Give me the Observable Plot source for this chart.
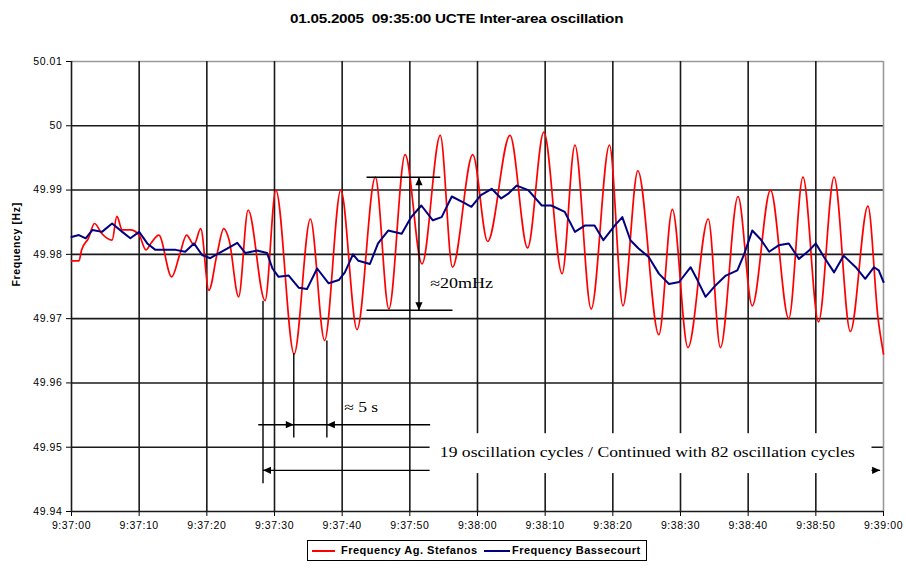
<!DOCTYPE html>
<html><head><meta charset="utf-8">
<script src="https://cdn.jsdelivr.net/npm/d3@7"></script>
<script src="https://cdn.jsdelivr.net/npm/@observablehq/plot@0.6"></script>
<style>
body{margin:0;background:#fff;width:906px;height:574px;position:relative;overflow:hidden;font-family:Arial,"Liberation Sans",sans-serif;color:#000}
#title{position:absolute;left:0;top:9px;width:906px;text-align:center;}
#title span{display:inline-block;font-weight:bold;font-size:12.5px;transform:scaleX(1.22);transform-origin:center;margin-left:7px;white-space:pre;letter-spacing:-0.2px}
#chart{position:absolute;left:0;top:36px;}
#legend{position:absolute;left:307px;top:540px;width:338px;height:19px;border:1px solid #000;background:#fff}
#legend .ln{position:absolute;top:9px;height:2px}
#legend .tx{position:absolute;top:3px;font-size:11px;font-weight:bold;letter-spacing:0.5px;white-space:nowrap;line-height:13px}
</style>
</head><body>
<div id="title"><span>01.05.2005  09:35:00 UCTE Inter-area oscillation</span></div>
<div id="chart"></div>
<div id="legend">
  <div class="ln" style="left:4px;width:23px;background:#ff0000"></div>
  <div class="tx" id="lg1" style="left:33px"></div>
  <div class="ln" style="left:176px;width:26px;background:#000080"></div>
  <div class="tx" id="lg2" style="left:204px"></div>
</div>
<script>
// ---- data ----
const seriesNames = ["Frequency Ag. Stefanos", "Frequency Bassecourt"];
const xTicks = [0,10,20,30,40,50,60,70,80,90,100,110,120];
const xTickLabels = ["9:37:00","9:37:10","9:37:20","9:37:30","9:37:40","9:37:50","9:38:00","9:38:10","9:38:20","9:38:30","9:38:40","9:38:50","9:39:00"];
const yTicks = [49.94,49.95,49.96,49.97,49.98,49.99,50,50.01];
const yTickLabels = ["49.94","49.95","49.96","49.97","49.98","49.99","50","50.01"];

// Frequency Ag. Stefanos (seconds after 9:37:00, Hz)
const redT = [0,1.1,1.5,2.5,3.4,4.5,6.0,6.7,7.5,8.7,10.0,11.0,11.8,12.9,14.8,16.0,17.0,18.1,19.1,20.3,21.5,22.5,23.3,24.7,26.1,28.6,30.2,32.9,35.3,37.4,39.8,42.2,44.9,46.9,49.3,51.8,54.5,56.3,59.3,61.5,64.8,67.4,69.8,72.5,74.4,76.8,79.5,81.5,83.7,86.8,88.8,91.1,94.1,95.9,98.5,100.6,103.3,106.0,108.1,110.4,112.7,115.1,117.7,119.2,120.0];
const redF = [49.979,49.979,49.9807,49.9825,49.9848,49.9832,49.9822,49.9859,49.9838,49.9838,49.9830,49.9807,49.9818,49.9830,49.9765,49.9800,49.9830,49.9815,49.9840,49.9744,49.9800,49.9840,49.9822,49.9734,49.9869,49.9728,49.9900,49.9645,49.9855,49.9666,49.9900,49.9683,49.9920,49.9715,49.9955,49.9785,49.9985,49.9780,49.9955,49.9820,49.9985,49.9810,49.9990,49.9770,49.9970,49.9715,49.9970,49.9720,49.9930,49.9675,49.9870,49.9655,49.9855,49.9655,49.9890,49.9720,49.9900,49.9700,49.9920,49.9695,49.9920,49.9680,49.9875,49.9700,49.9645];

// Frequency Bassecourt
const blueT = [0,1.1,2.1,3.1,4.5,6.0,7.5,8.7,10.0,11.2,12.4,13.9,15.4,16.8,18.1,19.3,20.5,21.8,23.0,24.5,25.7,27.4,28.9,29.7,30.6,32.1,33.6,34.8,36.3,38.0,39.5,40.4,41.6,42.4,44.1,45.3,46.8,48.8,50.2,51.7,53.4,54.7,56.2,57.9,59.1,60.5,62.1,63.5,64.5,65.8,67.5,69.5,70.9,72.9,74.4,75.9,77.3,78.6,80.3,81.4,82.6,83.8,85.3,86.8,88.3,89.8,91.5,92.5,93.7,95.2,96.7,98.4,99.4,100.6,101.8,103.1,104.5,106.0,107.5,109.0,110.0,111.2,112.7,114.1,115.9,117.3,118.6,119.3,120.0];
const blueF = [49.9827,49.9830,49.9825,49.9838,49.9835,49.9848,49.9835,49.9825,49.9835,49.9817,49.9807,49.9807,49.9807,49.9804,49.9817,49.9799,49.9794,49.9802,49.9809,49.9818,49.9802,49.9806,49.9802,49.9778,49.9765,49.9767,49.9748,49.9746,49.9778,49.9755,49.9760,49.9772,49.9800,49.9790,49.9785,49.9817,49.9837,49.9832,49.9858,49.9876,49.9853,49.9858,49.9890,49.9881,49.9874,49.9892,49.9902,49.9887,49.9894,49.9907,49.9900,49.9876,49.9876,49.9866,49.9835,49.9845,49.9845,49.9822,49.9845,49.9858,49.9822,49.9809,49.9796,49.9770,49.9754,49.9757,49.9780,49.9760,49.9734,49.9752,49.9767,49.9775,49.9800,49.9837,49.9824,49.9804,49.9814,49.9817,49.9793,49.9806,49.9817,49.9796,49.9772,49.9798,49.9780,49.9762,49.9780,49.9775,49.9757];

// annotations (time s, frequency Hz)
const annoHLines = [
  {t1:43.6, t2:54.5, f:49.9920},
  {t1:43.6, t2:56.3, f:49.9713},
  {t1:27.6, t2:53.0, f:49.9535},
  {t1:28.3, t2:119.5, f:49.9464}
];
const annoVLines = [
  {t:51.35, f1:49.9920, f2:49.9713},
  {t:28.3, f1:49.9728, f2:49.9444},
  {t:32.85, f1:49.9646, f2:49.9515},
  {t:37.74, f1:49.9666, f2:49.9515}
];
const annoHeads = [
  {t:51.35, f:49.9920, dir:"up"},
  {t:51.35, f:49.9713, dir:"down"},
  {t:32.85, f:49.9535, dir:"right"},
  {t:37.74, f:49.9535, dir:"left"},
  {t:28.3, f:49.9464, dir:"left"},
  {t:119.5, f:49.9464, dir:"right"}
];
const annoBox = [{t1:53.0, t2:118.3, f1:49.9459, f2:49.9521}];
const annoTexts = [
  {t:53.0, f:49.9755, label:"≈20mHz", anchor:"start"},
  {t:40.3, f:49.9562, label:"≈ 5 s", anchor:"start"},
  {t:85.1, f:49.9492, label:"19 oscillation cycles / Continued with 82 oscillation cycles", anchor:"middle"}
];

// ---- build ----
document.getElementById("lg1").textContent = seriesNames[0];
document.getElementById("lg2").textContent = seriesNames[1];

const red = redT.map((t,i)=>({t, f:redF[i]}));
const blue = blueT.map((t,i)=>({t, f:blueF[i]}));

function tri(dir){
  const h = 8, w = 3.6;
  return {draw(c){
    c.moveTo(0,0);
    if(dir==="up"){c.lineTo(-w,h);c.lineTo(w,h);}
    else if(dir==="down"){c.lineTo(-w,-h);c.lineTo(w,-h);}
    else if(dir==="left"){c.lineTo(h,-w);c.lineTo(h,w);}
    else {c.lineTo(-h,-w);c.lineTo(-h,w);}
    c.closePath();
  }};
}
const gridDark = "#1a1a1a", gridLight = "#9a9a9a";
const serif = "'Liberation Serif','Times New Roman',serif";

const svg = Plot.plot({
  width: 906, height: 495,
  marginTop: 25, marginRight: 23, marginBottom: 20, marginLeft: 71,
  style: {fontFamily: "Arial, 'Liberation Sans', sans-serif", fontSize: "10.5px", color: "#000", letterSpacing: "0.6px", background: "white", overflow: "visible"},
  x: {domain:[0,120], ticks: xTicks, tickFormat: d => xTickLabels[xTicks.indexOf(d)], tickSize: 5, tickPadding: 5, label: null},
  y: {domain:[49.94,50.01], ticks: yTicks, tickFormat: d => yTickLabels[yTicks.indexOf(d)], tickSize: 5, tickPadding: 4, label: null},
  marks: [
    Plot.ruleY(yTicks.slice(0,-1), {stroke: gridDark, strokeWidth: 1.6}),
    Plot.ruleY(yTicks.slice(-1), {stroke: gridLight, strokeWidth: 1.6}),
    Plot.ruleX(xTicks.slice(0,-1), {stroke: gridDark, strokeWidth: 1.6}),
    Plot.ruleX(xTicks.slice(-1), {stroke: gridLight, strokeWidth: 1.6}),
    Plot.line(red, {x:"t", y:"f", stroke:"#ff0000", strokeWidth:1.7, curve:"monotone-x"}),
    Plot.line(blue, {x:"t", y:"f", stroke:"#000080", strokeWidth:2}),
    Plot.link(annoHLines, {x1:"t1", x2:"t2", y1:"f", y2:"f", stroke:"#000", strokeWidth:1.4}),
    Plot.link(annoVLines, {x1:"t", x2:"t", y1:"f1", y2:"f2", stroke:"#000", strokeWidth:1.4}),
    ...["up","down","left","right"].map(dir => Plot.dot(annoHeads.filter(d=>d.dir===dir), {x:"t", y:"f", symbol: tri(dir), r:3, fill:"#000", stroke:"none"})),
    Plot.rect(annoBox, {x1:"t1", x2:"t2", y1:"f1", y2:"f2", fill:"white"}),
    Plot.text(annoTexts.filter(d=>d.anchor==="start"), {x:"t", y:"f", text:"label", textAnchor:"start", fontFamily: serif, fontSize: 14, fill:"#000"}),
    Plot.text(annoTexts.filter(d=>d.anchor==="middle"), {x:"t", y:"f", text:"label", textAnchor:"middle", fontFamily: serif, fontSize: 14, fill:"#000"}),
    Plot.text(["Frequency [Hz]"], {frameAnchor:"left", rotate:-90, dx:-55, fontWeight:"bold", fontSize:10.5, fill:"#000"})
  ]
});
const widths = {"≈20mHz": 63, "≈ 5 s": 34, "19 oscillation cycles / Continued with 82 oscillation cycles": 415};
d3.select(svg).selectAll("text").each(function(){
  const w = widths[this.textContent.trim()];
  if (w) { this.setAttribute("textLength", w); this.setAttribute("lengthAdjust", "spacingAndGlyphs"); this.style.letterSpacing = "0px"; }
});
document.getElementById("chart").appendChild(svg);
</script>
</body></html>
